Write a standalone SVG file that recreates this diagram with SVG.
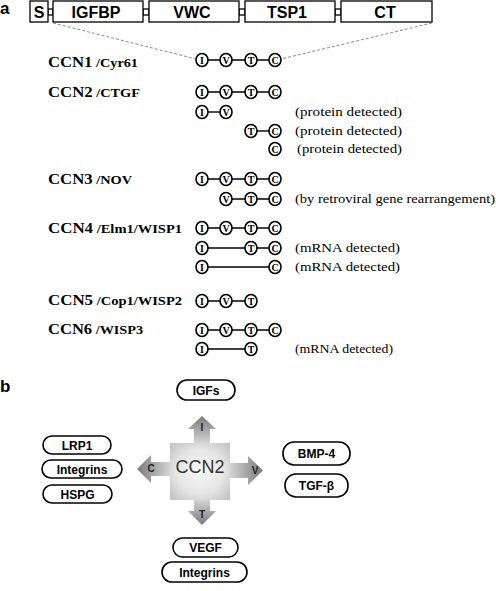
<svg xmlns="http://www.w3.org/2000/svg" width="496" height="591" viewBox="0 0 496 591">
<defs>
<style>
.bx{fill:#fff;stroke:#000;stroke-width:1.3}
.bt{font-family:"Liberation Sans",Arial,sans-serif;font-weight:bold;font-size:16px;text-anchor:middle}
.pl{font-family:"Liberation Sans",Arial,sans-serif;font-weight:bold;font-size:17px}
.c{fill:#fff;stroke:#000;stroke-width:1.6}
.cl{font-family:"Liberation Serif","Times New Roman",serif;font-weight:bold;font-size:10px;text-anchor:middle}
.ln{stroke:#000;stroke-width:1.4;fill:none}
.dash{stroke:#8a8a8a;stroke-width:1;stroke-dasharray:3 2;fill:none}
.lab{font-family:"Liberation Serif","Times New Roman",serif;font-weight:bold;font-size:14px}
.sub{font-size:12px}
.ann{font-family:"Liberation Serif","Times New Roman",serif;font-size:13px}
.pill{fill:#fff;stroke:#000;stroke-width:1.6}
.pt{font-family:"Liberation Sans",Arial,sans-serif;font-weight:bold;font-size:12px;text-anchor:middle}
.al{font-family:"Liberation Sans",Arial,sans-serif;font-weight:bold;font-size:10px;text-anchor:middle;fill:#222}
</style>
<radialGradient id="boxg" cx="0.5" cy="0.5" r="0.7">
<stop offset="0" stop-color="#f6f6f6"/>
<stop offset="0.55" stop-color="#e6e6e6"/>
<stop offset="1" stop-color="#c0c0c0"/>
</radialGradient>
<linearGradient id="gu" x1="0" y1="443" x2="0" y2="416" gradientUnits="userSpaceOnUse">
<stop offset="0" stop-color="#d4d4d4"/><stop offset="1" stop-color="#7a7a7a"/>
</linearGradient>
<linearGradient id="gd" x1="0" y1="500" x2="0" y2="525" gradientUnits="userSpaceOnUse">
<stop offset="0" stop-color="#d4d4d4"/><stop offset="1" stop-color="#7a7a7a"/>
</linearGradient>
<linearGradient id="gr" x1="230" y1="0" x2="263" y2="0" gradientUnits="userSpaceOnUse">
<stop offset="0" stop-color="#d4d4d4"/><stop offset="1" stop-color="#7a7a7a"/>
</linearGradient>
<linearGradient id="gl" x1="170" y1="0" x2="137" y2="0" gradientUnits="userSpaceOnUse">
<stop offset="0" stop-color="#d4d4d4"/><stop offset="1" stop-color="#7a7a7a"/>
</linearGradient>
</defs>
<rect width="496" height="591" fill="#fff"/>

<!-- panel labels -->
<text class="pl" x="0" y="14">a</text>
<text class="pl" x="0" y="392">b</text>

<!-- domain bar -->
<g id="domains">
<rect class="bx" x="48" y="9" width="5" height="6"/>
<rect class="bx" x="143" y="9" width="6" height="6"/>
<rect class="bx" x="239" y="9" width="6" height="6"/>
<rect class="bx" x="335" y="9" width="6" height="6"/>
<g id="dom-S"><rect class="bx" x="30" y="1" width="18" height="21"/><text class="bt" x="39" y="18">S</text></g>
<g id="dom-IGFBP"><rect class="bx" x="53" y="1" width="90" height="21"/><text class="bt" x="96" y="18">IGFBP</text></g>
<g id="dom-VWC"><rect class="bx" x="149" y="1" width="90" height="21"/><text class="bt" x="192" y="18">VWC</text></g>
<g id="dom-TSP1"><rect class="bx" x="245" y="1" width="90" height="21"/><text class="bt" x="287" y="18">TSP1</text></g>
<g id="dom-CT"><rect class="bx" x="341" y="1" width="91" height="21"/><text class="bt" x="385" y="18">CT</text></g>
</g>

<!-- connectors -->
<g id="connectors">
<line class="dash" x1="53" y1="23" x2="196" y2="59"/>
<line class="dash" x1="432" y1="23" x2="281" y2="59"/>
<line class="ln" x1="202" y1="60" x2="275" y2="60"/>
<line class="ln" x1="202" y1="92" x2="275" y2="92"/>
<line class="ln" x1="202" y1="112" x2="226" y2="112"/>
<line class="ln" x1="251" y1="131" x2="275" y2="131"/>
<line class="ln" x1="202" y1="179" x2="275" y2="179"/>
<line class="ln" x1="226" y1="199" x2="275" y2="199"/>
<line class="ln" x1="202" y1="228" x2="275" y2="228"/>
<line class="ln" x1="202" y1="248" x2="275" y2="248"/>
<line class="ln" x1="202" y1="267" x2="275" y2="267"/>
<line class="ln" x1="202" y1="301" x2="251" y2="301"/>
<line class="ln" x1="202" y1="330" x2="275" y2="330"/>
<line class="ln" x1="202" y1="349" x2="251" y2="349"/>
<polygon fill="url(#gu)" points="194,443 194,429 188,429 202,416 216,429 210,429 210,443"/>
<polygon fill="url(#gr)" points="230,463 248,463 248,456 263,470.5 248,485 248,478 230,478"/>
<polygon fill="url(#gd)" points="194,500 194,511 188,511 202,525 216,511 210,511 210,500"/>
<polygon fill="url(#gl)" points="170,462 151,462 151,455 137,469 151,483 151,476 170,476"/>
<text class="al" x="202" y="431">I</text>
<text class="al" x="255" y="474">V</text>
<text class="al" x="202" y="518">T</text>
<text class="al" x="151" y="472">C</text>
</g>

<!-- CCN1 -->
<g id="ccn1">
<text class="lab" x="48" y="67" textLength="90" lengthAdjust="spacingAndGlyphs">CCN1<tspan class="sub"> /Cyr61</tspan></text>
<ellipse class="c" cx="202" cy="60" rx="6" ry="6.5"/><text class="cl" x="202" y="63.5">I</text>
<ellipse class="c" cx="226" cy="60" rx="6" ry="6.5"/><text class="cl" x="226" y="63.5">V</text>
<ellipse class="c" cx="251" cy="60" rx="6" ry="6.5"/><text class="cl" x="251" y="63.5">T</text>
<ellipse class="c" cx="275" cy="60" rx="6" ry="6.5"/><text class="cl" x="275" y="63.5">C</text>
</g>

<!-- CCN2 -->
<g id="ccn2">
<text class="lab" x="48" y="97" textLength="92" lengthAdjust="spacingAndGlyphs">CCN2<tspan class="sub"> /CTGF</tspan></text>
<ellipse class="c" cx="202" cy="92" rx="6" ry="6.5"/><text class="cl" x="202" y="95.5">I</text>
<ellipse class="c" cx="226" cy="92" rx="6" ry="6.5"/><text class="cl" x="226" y="95.5">V</text>
<ellipse class="c" cx="251" cy="92" rx="6" ry="6.5"/><text class="cl" x="251" y="95.5">T</text>
<ellipse class="c" cx="275" cy="92" rx="6" ry="6.5"/><text class="cl" x="275" y="95.5">C</text>
<ellipse class="c" cx="202" cy="112" rx="6" ry="6.5"/><text class="cl" x="202" y="115.5">I</text>
<ellipse class="c" cx="226" cy="112" rx="6" ry="6.5"/><text class="cl" x="226" y="115.5">V</text>
<text class="ann" x="295" y="116" textLength="107" lengthAdjust="spacingAndGlyphs">(protein detected)</text>
<ellipse class="c" cx="251" cy="131" rx="6" ry="6.5"/><text class="cl" x="251" y="134.5">T</text>
<ellipse class="c" cx="275" cy="131" rx="6" ry="6.5"/><text class="cl" x="275" y="134.5">C</text>
<text class="ann" x="295" y="135" textLength="107" lengthAdjust="spacingAndGlyphs">(protein detected)</text>
<ellipse class="c" cx="275" cy="149" rx="6" ry="6.5"/><text class="cl" x="275" y="152.5">C</text>
<text class="ann" x="297" y="153" textLength="105" lengthAdjust="spacingAndGlyphs">(protein detected)</text>
</g>

<!-- CCN3 -->
<g id="ccn3">
<text class="lab" x="48" y="184" textLength="84" lengthAdjust="spacingAndGlyphs">CCN3<tspan class="sub"> /NOV</tspan></text>
<ellipse class="c" cx="202" cy="179" rx="6" ry="6.5"/><text class="cl" x="202" y="182.5">I</text>
<ellipse class="c" cx="226" cy="179" rx="6" ry="6.5"/><text class="cl" x="226" y="182.5">V</text>
<ellipse class="c" cx="251" cy="179" rx="6" ry="6.5"/><text class="cl" x="251" y="182.5">T</text>
<ellipse class="c" cx="275" cy="179" rx="6" ry="6.5"/><text class="cl" x="275" y="182.5">C</text>
<ellipse class="c" cx="226" cy="199" rx="6" ry="6.5"/><text class="cl" x="226" y="202.5">V</text>
<ellipse class="c" cx="251" cy="199" rx="6" ry="6.5"/><text class="cl" x="251" y="202.5">T</text>
<ellipse class="c" cx="275" cy="199" rx="6" ry="6.5"/><text class="cl" x="275" y="202.5">C</text>
<text class="ann" x="295" y="203" textLength="200" lengthAdjust="spacingAndGlyphs">(by retroviral gene rearrangement)</text>
</g>

<!-- CCN4 -->
<g id="ccn4">
<text class="lab" x="48" y="233" textLength="134" lengthAdjust="spacingAndGlyphs">CCN4<tspan class="sub"> /Elm1/WISP1</tspan></text>
<ellipse class="c" cx="202" cy="228" rx="6" ry="6.5"/><text class="cl" x="202" y="231.5">I</text>
<ellipse class="c" cx="226" cy="228" rx="6" ry="6.5"/><text class="cl" x="226" y="231.5">V</text>
<ellipse class="c" cx="251" cy="228" rx="6" ry="6.5"/><text class="cl" x="251" y="231.5">T</text>
<ellipse class="c" cx="275" cy="228" rx="6" ry="6.5"/><text class="cl" x="275" y="231.5">C</text>
<ellipse class="c" cx="202" cy="248" rx="6" ry="6.5"/><text class="cl" x="202" y="251.5">I</text>
<ellipse class="c" cx="251" cy="248" rx="6" ry="6.5"/><text class="cl" x="251" y="251.5">T</text>
<ellipse class="c" cx="275" cy="248" rx="6" ry="6.5"/><text class="cl" x="275" y="251.5">C</text>
<text class="ann" x="295" y="252" textLength="105" lengthAdjust="spacingAndGlyphs">(mRNA detected)</text>
<ellipse class="c" cx="202" cy="267" rx="6" ry="6.5"/><text class="cl" x="202" y="270.5">I</text>
<ellipse class="c" cx="275" cy="267" rx="6" ry="6.5"/><text class="cl" x="275" y="270.5">C</text>
<text class="ann" x="295" y="271" textLength="105" lengthAdjust="spacingAndGlyphs">(mRNA detected)</text>
</g>

<!-- CCN5 -->
<g id="ccn5">
<text class="lab" x="48" y="305" textLength="134" lengthAdjust="spacingAndGlyphs">CCN5<tspan class="sub"> /Cop1/WISP2</tspan></text>
<ellipse class="c" cx="202" cy="301" rx="6" ry="6.5"/><text class="cl" x="202" y="304.5">I</text>
<ellipse class="c" cx="226" cy="301" rx="6" ry="6.5"/><text class="cl" x="226" y="304.5">V</text>
<ellipse class="c" cx="251" cy="301" rx="6" ry="6.5"/><text class="cl" x="251" y="304.5">T</text>
</g>

<!-- CCN6 -->
<g id="ccn6">
<text class="lab" x="48" y="334" textLength="95" lengthAdjust="spacingAndGlyphs">CCN6<tspan class="sub"> /WISP3</tspan></text>
<ellipse class="c" cx="202" cy="330" rx="6" ry="6.5"/><text class="cl" x="202" y="333.5">I</text>
<ellipse class="c" cx="226" cy="330" rx="6" ry="6.5"/><text class="cl" x="226" y="333.5">V</text>
<ellipse class="c" cx="251" cy="330" rx="6" ry="6.5"/><text class="cl" x="251" y="333.5">T</text>
<ellipse class="c" cx="275" cy="330" rx="6" ry="6.5"/><text class="cl" x="275" y="333.5">C</text>
<ellipse class="c" cx="202" cy="349" rx="6" ry="6.5"/><text class="cl" x="202" y="352.5">I</text>
<ellipse class="c" cx="251" cy="349" rx="6" ry="6.5"/><text class="cl" x="251" y="352.5">T</text>
<text class="ann" x="295" y="353" textLength="98" lengthAdjust="spacingAndGlyphs">(mRNA detected)</text>
</g>

<!-- panel b -->
<g id="ccn2-center">
<rect x="170" y="443" width="60" height="57" fill="url(#boxg)"/>
<text x="200" y="473" font-family="'Liberation Sans',Arial,sans-serif" font-size="18" text-anchor="middle" fill="#333">CCN2</text>
</g>
<g id="igfs"><rect class="pill" x="177" y="380" width="58" height="20" rx="10"/><text class="pt" x="206" y="394.5">IGFs</text></g>
<g id="lrp1"><rect class="pill" x="43" y="436" width="68" height="18" rx="9"/><text class="pt" x="77" y="449.5">LRP1</text></g>
<g id="integrins-c"><rect class="pill" x="42" y="460" width="80" height="18" rx="9"/><text class="pt" x="82" y="473.5">Integrins</text></g>
<g id="hspg"><rect class="pill" x="43" y="485" width="69" height="18" rx="9"/><text class="pt" x="77.5" y="498.5">HSPG</text></g>
<g id="bmp4"><rect class="pill" x="283" y="442" width="67" height="23" rx="11"/><text class="pt" x="316.5" y="458">BMP-4</text></g>
<g id="tgfb"><rect class="pill" x="285" y="474" width="63" height="23" rx="11"/><text class="pt" x="316.5" y="490">TGF-β</text></g>
<g id="vegf"><rect class="pill" x="173" y="538" width="65" height="19" rx="9.5"/><text class="pt" x="205.5" y="552">VEGF</text></g>
<g id="integrins-t"><rect class="pill" x="162" y="562" width="85" height="20" rx="10"/><text class="pt" x="204.5" y="576.5">Integrins</text></g>
</svg>
